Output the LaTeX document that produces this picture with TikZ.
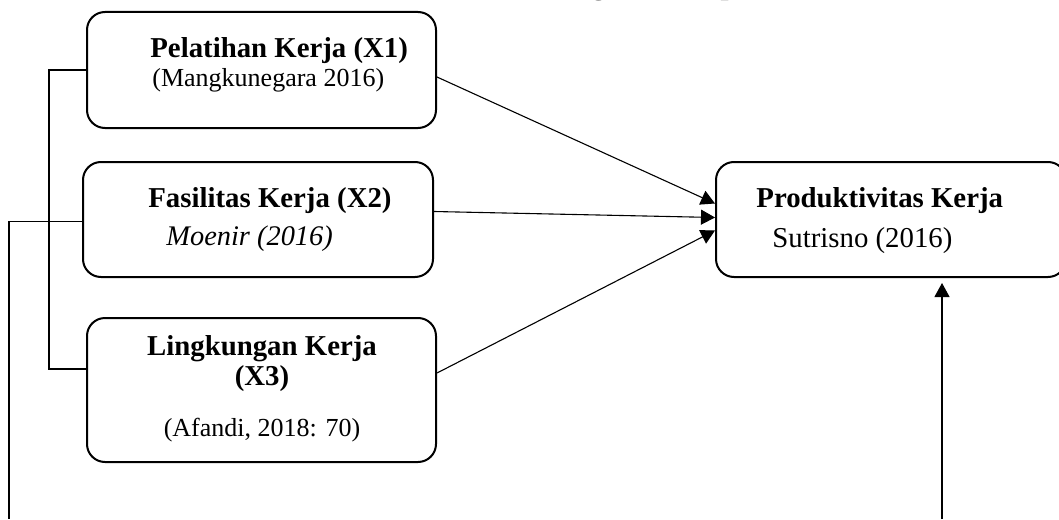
\documentclass[tikz,border=0pt]{standalone}
\usepackage{fontspec}
\setmainfont{Liberation Serif}
\usepackage{tikz}
\usetikzlibrary{arrows.meta,calc}

\tikzset{
  kotak/.style={draw, line width=1pt, rounded corners=9pt, inner sep=0pt},
  judul/.style={anchor=base west, inner sep=0pt, font=\fontsize{14.4}{16}\selectfont\bfseries},
  sumber/.style={anchor=base west, inner sep=0pt, font=\fontsize{13}{15}\selectfont},
  garis/.style={line width=0.55pt},
  panah/.style={line width=0.55pt, -{Triangle[length=7pt,width=7.5pt]}}
}

\begin{document}
\begin{tikzpicture}[x=0.5pt,y=0.5pt,yscale=-1,xscale=1]
\useasboundingbox (0,0) rectangle (1059,519);

%Shape: Rounded Rect
\node [kotak, minimum width=174.5pt, minimum height=58pt] (pelatihan) at (261.5,70) {};
%Shape: Rounded Rect
\node [kotak, minimum width=175pt, minimum height=57.5pt] (fasilitas) at (258,219.5) {};
%Shape: Rounded Rect
\node [kotak, minimum width=174.5pt, minimum height=72pt] (lingkungan) at (261.5,390) {};
%Shape: Rounded Rect
\node [kotak, minimum width=175pt, minimum height=57.5pt] (produktivitas) at (891,219.5) {};

% Text Node
\node [judul, anchor=base east] (gambar) at (785,-5) {Gambar 2.1 Kerangka Konseptual};
% Text Node
\node [judul] (tPelatihan) at (150,58) {Pelatihan Kerja (X1)};
% Text Node
\node [sumber] (sPelatihan) at (152,87) {(Mangkunegara 2016)};
% Text Node
\node [judul] (tFasilitas) at (148,207) {Fasilitas Kerja (X2)};
% Text Node
\node [sumber, font=\fontsize{14.2}{16}\selectfont\itshape] (sFasilitas) at (166,245) {Moenir (2016)};
% Text Node
\node [judul, anchor=base] (tLingkungan) at (262,355) {Lingkungan Kerja};
% Text Node
\node [judul, anchor=base] (xLingkungan) at (262,385) {(X3)};
% Text Node
\node [sumber, anchor=base] (sLingkungan) at (262,436) {(Afandi, 2018: 70)};
% Text Node
\node [judul] (tProduktivitas) at (756,207) {Produktivitas Kerja};
% Text Node
\node [sumber, font=\fontsize{14.4}{16}\selectfont] (sProduktivitas) at (772,247) {Sutrisno (2016)};

%Straight Lines
\draw [garis] (pelatihan.west) -- ++(-37,0) |- ($(lingkungan.west)+(0,-21)$) ;
%Straight Lines
\coordinate (bawahKiri) at (9,519);
\draw [garis] ($(fasilitas.west)+(0,2)$) -| (bawahKiri) ;
%Straight Lines
\coordinate (bawahKanan) at (942,519);
\draw [panah] (bawahKanan) -- ($(bawahKanan |- produktivitas.south)+(0,5)$) ;

%Arrows
\draw [panah] ($(pelatihan.east)+(0,7)$) -- ($(produktivitas.west)+(0,-16)$) ;
\draw [panah] ($(fasilitas.east)+(0,-8)$) -- ($(produktivitas.west)+(0,-2)$) ;
\draw [panah] ($(lingkungan.east)+(0,-17)$) -- ($(produktivitas.west)+(0,11)$) ;

\end{tikzpicture}
\end{document}
